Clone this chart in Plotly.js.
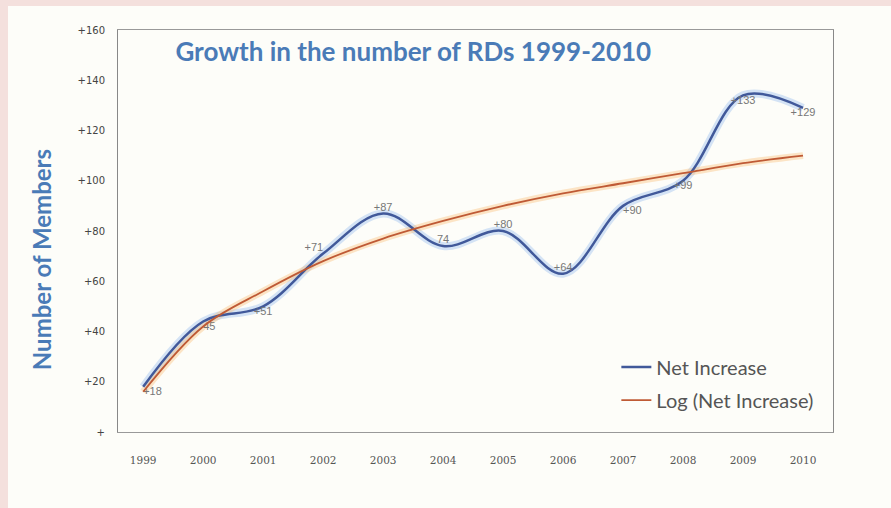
<!DOCTYPE html>
<html>
<head>
<meta charset="utf-8">
<script src="https://cdn.plot.ly/plotly-3.0.1.min.js"></script>
<style>
  html, body { margin: 0; padding: 0; background: #f4e0dd; width: 891px; height: 508px; overflow: hidden; }
  #chart { position: absolute; left: 8px; top: 6px; width: 883px; height: 502px; }
</style>
</head>
<body>
<div id="chart"></div>
<script>
const years = ["1999","2000","2001","2002","2003","2004","2005","2006","2007","2008","2009","2010"];
const netIncrease = [18, 44, 50, 71, 87, 74, 80, 63, 90, 100, 134, 129];
const netLabels = ["+18","45","+51","+71","+87","74","+80","+64","+90","+99","+133","+129"];
const logTrend = [16, 42, 56, 68, 77, 84, 90, 95, 99, 103, 107, 110];
const yTickVals = [0, 20, 40, 60, 80, 100, 120, 140, 160];
const yTickText = ["+", "+20", "+40", "+60", "+80", "+100", "+120", "+140", "+160"];
const labelPos = ["bottom right","bottom right","bottom center","top left","top center","top center","top center","top center","bottom right","bottom center","bottom center","bottom center"];

const traces = [
  { x: years, y: netIncrease, type: 'scatter', mode: 'lines', showlegend: false, hoverinfo: 'skip',
    line: { color: 'rgba(120,170,235,0.3)', width: 8, shape: 'spline', smoothing: 1 } },
  { x: years, y: logTrend, type: 'scatter', mode: 'lines', showlegend: false, hoverinfo: 'skip',
    line: { color: 'rgba(250,190,120,0.4)', width: 7, shape: 'spline', smoothing: 1 } },
  { x: years, y: netIncrease, type: 'scatter', mode: 'lines+text', name: 'Net Increase', legendgroup: 'a',
    text: netLabels, textposition: labelPos,
    textfont: { family: 'Liberation Sans, Arial', size: 11, color: '#777' },
    line: { color: '#41599a', width: 2.5, shape: 'spline', smoothing: 1 } },
  { x: years, y: logTrend, type: 'scatter', mode: 'lines', name: 'Log (Net Increase)', legendgroup: 'b',
    line: { color: '#bf5a35', width: 1.8, shape: 'spline', smoothing: 1 } }
];

const layout = {
  width: 883, height: 502,
  paper_bgcolor: '#fdfdf9', plot_bgcolor: '#fdfdf9',
  margin: { l: 110, r: 58, t: 24, b: 76 },
  font: { family: 'Lato, Open Sans, sans-serif', color: '#555' },
  title: { text: '<b>Growth in the number of RDs 1999-2010</b>', x: 0.459, xref: 'container', xanchor: 'center',
           y: 0.908, yref: 'container', yanchor: 'middle',
           font: { family: 'Lato, Open Sans, sans-serif', size: 26, color: '#4a7bb7' } },
  xaxis: { type: 'category', range: [-0.42, 11.5], showgrid: false, zeroline: false,
           showline: true, linecolor: '#999', linewidth: 1, mirror: true,
           ticks: 'outside', ticklen: 18, tickcolor: 'rgba(0,0,0,0)',
           tickfont: { family: 'DejaVu Serif, serif', size: 10.5, color: '#555' } },
  yaxis: { range: [0, 160], tickvals: yTickVals, ticktext: yTickText, showgrid: false, zeroline: false,
           showline: true, linecolor: '#888', linewidth: 1, mirror: true,
           ticks: 'outside', ticklen: 10, tickcolor: 'rgba(0,0,0,0)',
           tickfont: { family: 'DejaVu Sans, sans-serif', size: 10, color: '#444' } },
  legend: { x: 0.697, y: 0.21, xanchor: 'left', yanchor: 'top', bgcolor: 'rgba(0,0,0,0)',
            traceorder: 'grouped', tracegroupgap: 4,
            font: { family: 'Lato, sans-serif', size: 20, color: '#555' }, itemwidth: 30 },
  annotations: [
    { text: '<b>Number of Members</b>', textangle: -90, xref: 'paper', yref: 'paper',
      x: -0.106, y: 0.428, xanchor: 'center', yanchor: 'middle', showarrow: false,
      font: { family: 'Lato, Open Sans, sans-serif', size: 24, color: '#4a7bb7' } }
  ]
};

Plotly.newPlot('chart', traces, layout, { displayModeBar: false, staticPlot: true });
</script>
</body>
</html>
